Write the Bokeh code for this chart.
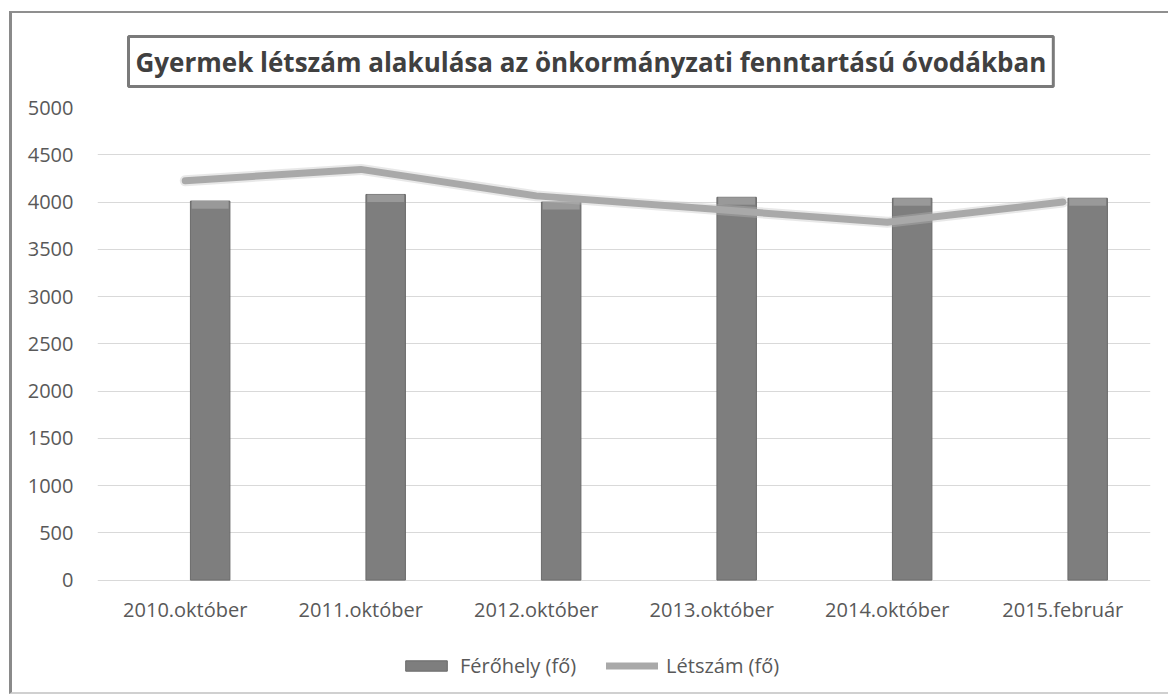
from bokeh.plotting import figure
from bokeh.models import ColumnDataSource, FactorRange, Legend, LegendItem, Title
from bokeh.core.properties import value
from bokeh.transform import dodge
from bokeh.embed import file_html
from bokeh.resources import INLINE

categories = ["2010.október", "2011.október", "2012.október", "2013.október", "2014.október", "2015.február"]
ferohely = [4010, 4080, 4000, 4050, 4040, 4040]
letszam = [4225, 4345, 4065, 3925, 3785, 4000]
y_ticks = [0, 500, 1000, 1500, 2000, 2500, 3000, 3500, 4000, 4500, 5000]

title_text = "Gyermek létszám alakulása az önkormányzati fenntartású óvodákban"
label_bar = "Férőhely (fő)"
label_line = "Létszám (fő)"

src = ColumnDataSource(dict(cat=categories, f=ferohely, l=letszam))

# frame reaches the canvas bottom so the category labels and legend live inside it
p = figure(
    x_range=FactorRange(*categories, range_padding=0),
    y_range=(-1189, 5000),
    frame_width=1053, frame_height=585,
    min_border_left=85, min_border_right=18, min_border_top=90, min_border_bottom=0,
    output_backend="svg", toolbar_location=None,
    background_fill_color="white", border_fill_color="white",
)
p.margin = (11, 0, 0, 9)
p.styles = {"border-top": "2px solid #8f8f8f", "border-left": "3px solid #8a8a8a",
            "border-bottom": "2px solid #d0d0d0"}
p.outline_line_color = None

bars = p.vbar(x=dodge("cat", 0.142, range=p.x_range), top="f", width=0.225, source=src,
              fill_color="#7e7e7e", line_color="#6a6a6a", line_width=1)
p.rect(x=dodge("cat", 0.142, range=p.x_range), y=dodge("f", -40), width=0.21, height=80,
       source=src, fill_color="#999999", line_color=None)

p.line(x="cat", y="l", source=src, line_color="#bdbdbd", line_width=11, line_alpha=0.35,
       line_join="round", line_cap="round")
line = p.line(x="cat", y="l", source=src, line_color="#a9a9a9", line_width=7,
              line_join="round", line_cap="round")

# category labels under the zero line
p.text(x="cat", y=0, text="cat", source=src, text_align="center", text_baseline="top",
       y_offset=16, text_font=value("Open Sans"), text_font_size="20px", text_color="#595959")

p.xaxis.visible = False
p.yaxis.ticker = y_ticks
p.ygrid.ticker = y_ticks
p.xgrid.grid_line_color = None
p.ygrid.grid_line_color = "#d9d9d9"
p.ygrid.grid_line_width = 1

p.yaxis.major_tick_line_color = None
p.yaxis.minor_tick_line_color = None
p.yaxis.major_label_text_font = "Open Sans"
p.yaxis.major_label_text_font_size = "20px"
p.yaxis.major_label_text_color = "#595959"
p.yaxis.axis_line_color = None
p.yaxis.major_label_standoff = 18

title = Title(text=title_text, align="left", offset=31, standoff=42,
              text_font="Open Sans", text_font_style="bold", text_font_size="26px",
              text_color="#404040", border_line_color="#7a7a7a", border_line_width=3,
              background_fill_color="white", padding=7)
p.add_layout(title, "above")

legend = Legend(items=[LegendItem(label=label_bar, renderers=[bars]),
                       LegendItem(label=label_line, renderers=[line])],
                orientation="horizontal", location=(303, 13),
                glyph_width=52, glyph_height=13, label_standoff=8, spacing=30,
                padding=0, margin=0, border_line_color=None, background_fill_alpha=0,
                label_text_font="Open Sans", label_text_font_size="20px",
                label_text_color="#595959")
p.add_layout(legend, "center")

open("out.html", "w").write(file_html(p, INLINE))
